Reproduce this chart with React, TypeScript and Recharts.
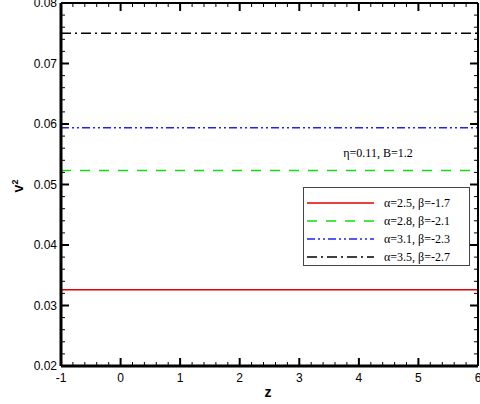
import { LineChart, Line, XAxis, YAxis, Legend } from "recharts";

const zValues = [-1, 0, 1, 2, 3, 4, 5, 6];
const red = [0.0326, 0.0326, 0.0326, 0.0326, 0.0326, 0.0326, 0.0326, 0.0326];
const green = [0.0523, 0.0523, 0.0523, 0.0523, 0.0523, 0.0523, 0.0523, 0.0523];
const blue = [0.0594, 0.0594, 0.0594, 0.0594, 0.0594, 0.0594, 0.0594, 0.0594];
const black = [0.075, 0.075, 0.075, 0.075, 0.075, 0.075, 0.075, 0.075];

const xTickLabels = [-1, 0, 1, 2, 3, 4, 5, 6];
const yTickLabels = [0.02, 0.03, 0.04, 0.05, 0.06, 0.07, 0.08];

const seriesInfo = [
  { key: "s1", name: "α=2.5, β=-1.7", color: "#e00000", dash: undefined },
  { key: "s2", name: "α=2.8, β=-2.1", color: "#11dd11", dash: "10 9" },
  { key: "s3", name: "α=3.1, β=-2.3", color: "#2020ff", dash: "8 3 2 3 2 3" },
  { key: "s4", name: "α=3.5, β=-2.7", color: "#000000", dash: "10 4 2 4" },
];

const data = zValues.map((z, i) => ({ z, s1: red[i], s2: green[i], s3: blue[i], s4: black[i] }));

const X_DOMAIN: [number, number] = [-1, 6];
const Y_DOMAIN: [number, number] = [0.02, 0.08];
const W = 480;
const H = 404;
const M = { top: 2, right: 1, bottom: 0, left: 0 };
const Y_AXIS_W = 61;
const X_AXIS_H = 38;
// plot box, same as what recharts lays out from the sizes above
const PX0 = M.left + Y_AXIS_W;
const PX1 = W - M.right - 1;
const PY0 = M.top + 1;
const PY1 = H - M.bottom - X_AXIS_H;
const sx = (v: number) => PX0 + ((v - X_DOMAIN[0]) / (X_DOMAIN[1] - X_DOMAIN[0])) * (PX1 - PX0);
const sy = (v: number) => PY1 - ((v - Y_DOMAIN[0]) / (Y_DOMAIN[1] - Y_DOMAIN[0])) * (PY1 - PY0);

// minor ticks: 4 between each pair of majors
const xMinor: number[] = [];
for (let i = 0; i < xTickLabels.length - 1; i++) {
  for (let k = 1; k < 5; k++) xMinor.push(xTickLabels[i] + (k * (xTickLabels[i + 1] - xTickLabels[i])) / 5);
}
const yMinor: number[] = [];
for (let i = 0; i < yTickLabels.length - 1; i++) {
  for (let k = 1; k < 5; k++) yMinor.push(yTickLabels[i] + (k * (yTickLabels[i + 1] - yTickLabels[i])) / 5);
}

const tickPath = (xs: number[], ys: number[], len: number) => {
  let d = "";
  xs.forEach((v) => {
    const x = sx(v).toFixed(1);
    d += `M${x},${PY1}V${PY1 - len}M${x},${PY0}V${PY0 + len}`;
  });
  ys.forEach((v) => {
    const y = sy(v).toFixed(1);
    d += `M${PX0},${y}H${PX0 + len}M${PX1},${y}H${PX1 - len}`;
  });
  return d;
};

const font = "Arial, 'Liberation Sans', sans-serif";

function renderXLabel(props: any) {
  const { x, y, payload } = props;
  return (
    <text key={`xl-${payload.value}`} x={x} y={Number(y) + 16} textAnchor="middle" fontSize={12} fontFamily={font} fill="#000">
      {payload.value}
    </text>
  );
}

function renderYLabel(props: any) {
  const { x, y, payload } = props;
  return (
    <text key={`yl-${payload.value}`} x={Number(x) - 4} y={Number(y) + 4} textAnchor="end" fontSize={12} fontFamily={font} fill="#000">
      {payload.value.toFixed(2)}
    </text>
  );
}

function LegendBox() {
  return (
    <div
      style={{
        width: 165,
        height: 71,
        border: "1px solid #444",
        background: "#fff",
        fontFamily: "'Times New Roman', 'Liberation Serif', serif",
        fontSize: 12,
        paddingTop: 6,
        boxSizing: "content-box",
      }}
    >
      {seriesInfo.map((s) => (
        <div key={s.key} style={{ display: "flex", alignItems: "center", height: 18 }}>
          <svg width={78} height={18}>
            <line x1={3} y1={9} x2={70} y2={9} stroke={s.color} strokeWidth={1.5} strokeDasharray={s.dash} />
          </svg>
          <span style={{ marginLeft: 2 }}>{s.name}</span>
        </div>
      ))}
    </div>
  );
}

export default function App() {
  return (
    <div style={{ position: "absolute", left: 0, top: 0, width: W, height: H, background: "#fff" }}>
      <LineChart width={W} height={H} data={data} margin={M}>
        <XAxis
          xAxisId="bottom"
          dataKey="z"
          type="number"
          domain={X_DOMAIN}
          ticks={xTickLabels}
          interval={0}
          height={X_AXIS_H}
          tickSize={0}
          tickMargin={0}
          tickLine={false}
          axisLine={{ stroke: "#000", strokeWidth: 3 }}
          tick={renderXLabel}
        />
        <XAxis
          xAxisId="top"
          orientation="top"
          dataKey="z"
          type="number"
          domain={X_DOMAIN}
          ticks={xTickLabels}
          height={1}
          tick={false}
          tickLine={false}
          axisLine={{ stroke: "#000", strokeWidth: 2 }}
        />
        <YAxis
          yAxisId="left"
          type="number"
          domain={Y_DOMAIN}
          ticks={yTickLabels}
          interval={0}
          width={Y_AXIS_W}
          tickSize={0}
          tickMargin={0}
          tickLine={false}
          axisLine={{ stroke: "#000", strokeWidth: 3 }}
          tick={renderYLabel}
        />
        <YAxis
          yAxisId="right"
          orientation="right"
          type="number"
          domain={Y_DOMAIN}
          ticks={yTickLabels}
          width={1}
          tick={false}
          tickLine={false}
          axisLine={{ stroke: "#000", strokeWidth: 2 }}
        />
        {seriesInfo.map((s) => (
          <Line
            key={s.key}
            xAxisId="bottom"
            yAxisId="left"
            dataKey={s.key}
            name={s.name}
            stroke={s.color}
            strokeWidth={1.5}
            strokeDasharray={s.dash}
            dot={false}
            activeDot={false}
            isAnimationActive={false}
          />
        ))}
        <path d={tickPath(xTickLabels, yTickLabels, 8)} stroke="#000" strokeWidth={2} fill="none" />
        <path d={tickPath(xMinor, yMinor, 4)} stroke="#000" strokeWidth={1} fill="none" />
        <Legend
          layout="horizontal"
          verticalAlign="middle"
          align="center"
          content={<LegendBox />}
          wrapperStyle={{ position: "absolute", left: 303, top: 187, width: "auto", height: "auto" }}
        />
        <text x={378} y={157} textAnchor="middle" fontSize={12} fontFamily="'Times New Roman', 'Liberation Serif', serif">
          η=0.11, B=1.2
        </text>
        <text x={268} y={397} textAnchor="middle" fontSize={14} fontWeight="bold" fontFamily={font}>
          z
        </text>
        <text x={23} y={186} textAnchor="middle" fontSize={14} fontWeight="bold" fontFamily={font} transform="rotate(-90 23 186)">
          v<tspan dy={-5} fontSize={9}>2</tspan>
        </text>
      </LineChart>
    </div>
  );
}
